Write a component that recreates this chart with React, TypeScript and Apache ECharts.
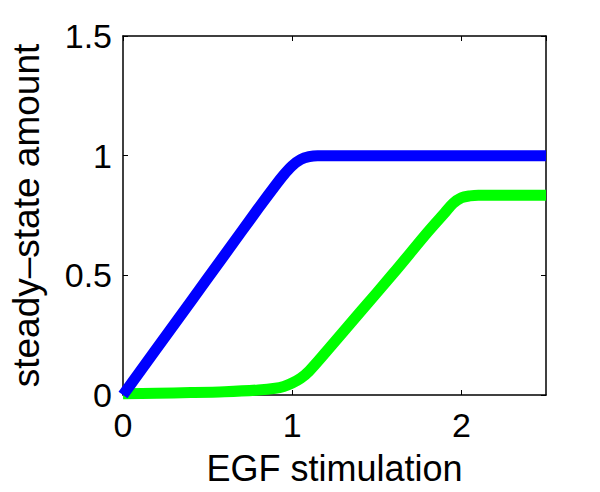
import React, { useEffect, useRef } from "react";
import * as echarts from "echarts";

const blueX = [0, 0.2, 0.4, 0.6, 0.8, 0.9, 0.95, 1.0, 1.05, 1.1, 1.15, 1.2, 2.5];
const blueY = [0, 0.195, 0.39, 0.585, 0.78, 0.875, 0.92, 0.958, 0.984, 0.996, 1.0, 1.0, 1.0];

const greenX = [0, 0.2, 0.4, 0.6, 0.8, 0.9, 0.95, 1.0, 1.05, 1.1, 1.2, 1.4, 1.6, 1.8, 1.9, 1.95, 2.0, 2.05, 2.1, 2.5];
const greenY = [0.005, 0.007, 0.01, 0.014, 0.021, 0.028, 0.036, 0.05, 0.07, 0.1, 0.18, 0.345, 0.51, 0.68, 0.76, 0.8, 0.824, 0.832, 0.835, 0.835];

const xTicks = [0, 1, 2];
const yTicks = [0, 0.5, 1, 1.5];
const xTitle = "EGF stimulation";
const yTitle = "steady\u2013state amount";

const FONT = "'Liberation Sans', Arial, Helvetica, sans-serif";

export default function App() {
  const ref = useRef<HTMLDivElement>(null);
  useEffect(() => {
    if (!ref.current) return;
    const chart = echarts.init(ref.current, undefined, { renderer: "svg" });
    const axisLine = { show: true, onZero: false, lineStyle: { color: "#000", width: 1.5 } };
    const axisTickIn = { show: true, inside: true, length: 5, lineStyle: { color: "#000", width: 1 } };
    chart.setOption({
      animation: false,
      backgroundColor: "#fff",
      grid: { left: 119, top: 36, right: 54, bottom: 97, containLabel: false },
      xAxis: [
        {
          type: "value",
          min: 0,
          max: 2.5,
          interval: 1,
          position: "bottom",
          name: xTitle,
          nameLocation: "middle",
          nameGap: 55,
          nameTextStyle: { fontFamily: FONT, fontSize: 36, color: "#000" },
          axisLine,
          axisTick: axisTickIn,
          splitLine: { show: false },
          axisLabel: {
            show: true,
            margin: 13,
            fontFamily: FONT,
            fontSize: 34,
            color: "#000",
            showMaxLabel: false,
            formatter: (v: number) => (xTicks.includes(v) ? String(v) : ""),
          },
        },
        {
          type: "value",
          min: 0,
          max: 2.5,
          interval: 1,
          position: "top",
          axisLine,
          axisTick: axisTickIn,
          splitLine: { show: false },
          axisLabel: { show: false },
        },
      ],
      yAxis: [
        {
          type: "value",
          min: 0,
          max: 1.5,
          interval: 0.5,
          position: "left",
          name: yTitle,
          nameLocation: "middle",
          nameGap: 78,
          nameTextStyle: { fontFamily: FONT, fontSize: 37, color: "#000" },
          axisLine,
          axisTick: axisTickIn,
          splitLine: { show: false },
          axisLabel: {
            show: true,
            margin: 11,
            fontFamily: FONT,
            fontSize: 34,
            color: "#000",
            formatter: (v: number) => (yTicks.includes(v) ? String(v) : ""),
          },
        },
        {
          type: "value",
          min: 0,
          max: 1.5,
          interval: 0.5,
          position: "right",
          axisLine,
          axisTick: axisTickIn,
          splitLine: { show: false },
          axisLabel: { show: false },
        },
      ],
      series: [
        {
          type: "line",
          xAxisIndex: 0,
          yAxisIndex: 0,
          data: greenX.map((x, i) => [x, greenY[i]]),
          showSymbol: false,
          symbol: "none",
          smooth: 0.3,
          clip: true,
          lineStyle: { color: "#00ff00", width: 11, join: "round", cap: "butt" },
          z: 2,
        },
        {
          type: "line",
          xAxisIndex: 0,
          yAxisIndex: 0,
          data: blueX.map((x, i) => [x, blueY[i]]),
          showSymbol: false,
          symbol: "none",
          smooth: 0.3,
          clip: true,
          lineStyle: { color: "#0000ff", width: 11, join: "round", cap: "butt" },
          z: 3,
        },
      ],
    });
    return () => chart.dispose();
  }, []);
  return (
    <div
      ref={ref}
      style={{ position: "fixed", left: 0, top: 0, width: 600, height: 492, background: "#fff" }}
    />
  );
}
